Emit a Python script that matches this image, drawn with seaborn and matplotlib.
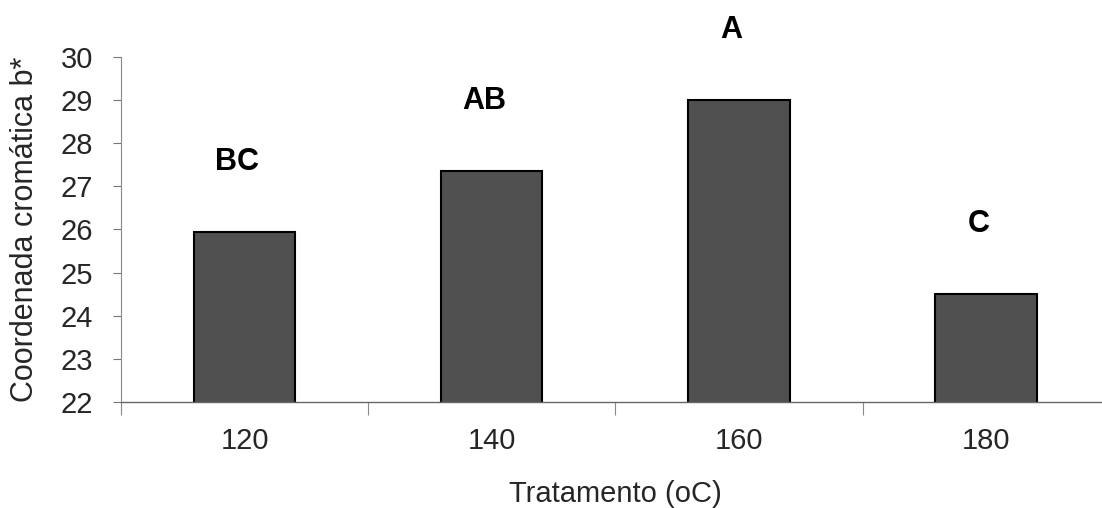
import matplotlib
matplotlib.use("Agg")
import matplotlib.pyplot as plt
import seaborn as sns
import pandas as pd

# Treatment temperatures and mean chromatic coordinate b*
tratamentos = ["120", "140", "160", "180"]
b_star = [25.95, 27.35, 29.0, 24.5]
letras = ["BC", "AB", "A", "C"]

sns.set_theme(style="white")
plt.rcParams["font.family"] = ["Liberation Sans", "DejaVu Sans"]

df = pd.DataFrame({"Tratamento": tratamentos, "b": b_star})

fig = plt.figure(figsize=(11.02, 5.08), dpi=100)
ax = fig.add_axes([0.1098, 0.2087, 0.8972, 0.6791])

sns.barplot(data=df, x="Tratamento", y="b", color="#505050", saturation=1,
            width=0.41, edgecolor="black", linewidth=1.5, ax=ax)

# significance letters above each bar
for i, (v, t) in enumerate(zip(b_star, letras)):
    ax.text(i - 0.03, v + 1.62, t, ha="center", va="center", fontsize=22,
            fontweight="bold", color="black")

ax.set_ylim(22, 30)
ax.set_xlim(-0.5, 3.5)
ax.set_yticks(range(22, 31))
ax.tick_params(axis="y", left=True, length=6, width=0.8, color="#777777",
               labelsize=21, pad=14)
# category ticks sit on the boundaries between groups
ax.set_xticks([-0.5, 0.5, 1.5, 2.5], minor=True)
ax.tick_params(axis="x", which="minor", bottom=True, length=9, width=0.8,
               color="#888888")
ax.tick_params(axis="x", which="major", bottom=False, labelsize=21, pad=12)

for s in ["top", "right"]:
    ax.spines[s].set_visible(False)
ax.spines["left"].set_color("#888888")
ax.spines["left"].set_linewidth(0.8)
ax.spines["left"].set_linestyle((0, (6, 1)))
ax.spines["bottom"].set_color("#666666")
ax.spines["bottom"].set_linewidth(1.0)

ax.set_xlabel("Tratamento (oC)", fontsize=21, labelpad=18)
ax.set_ylabel("Coordenada cromática b*", fontsize=22, labelpad=15)

fig.savefig("out.png", dpi=100)
